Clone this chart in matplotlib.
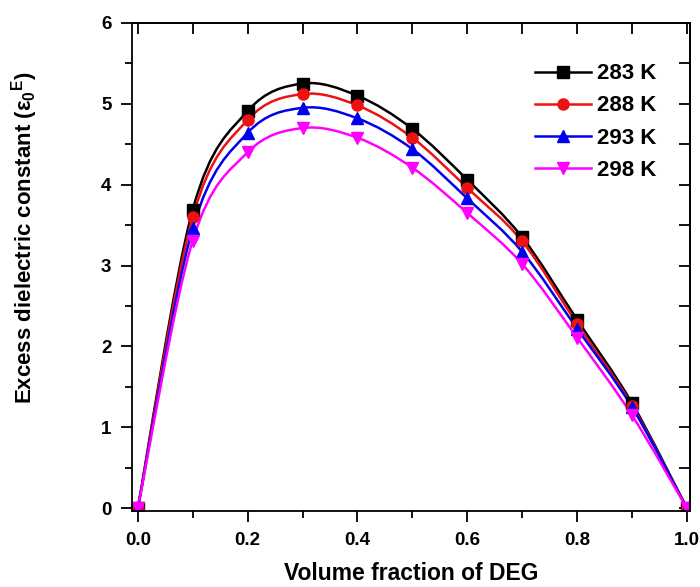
import matplotlib.pyplot as plt
import numpy as np
from matplotlib.path import Path
from matplotlib.patches import PathPatch
from matplotlib.ticker import MultipleLocator

plt.rcParams["font.family"] = ["Liberation Sans", "DejaVu Sans"]
plt.rcParams["font.weight"] = "bold"
plt.rcParams["mathtext.fontset"] = "custom"
plt.rcParams["mathtext.rm"] = "Liberation Sans"
plt.rcParams["mathtext.it"] = "Liberation Sans"

# volume fraction of DEG
phi = [0.0, 0.1, 0.2, 0.3, 0.4, 0.5, 0.6, 0.7, 0.8, 0.9, 1.0]

# excess dielectric constant at each temperature
eps_283 = [0.0, 3.69, 4.91, 5.25, 5.10, 4.69, 4.06, 3.35, 2.33, 1.30, 0.0]
eps_288 = [0.0, 3.60, 4.80, 5.12, 4.98, 4.58, 3.96, 3.30, 2.28, 1.27, 0.0]
eps_293 = [0.0, 3.46, 4.64, 4.95, 4.82, 4.44, 3.83, 3.17, 2.22, 1.25, 0.0]
eps_298 = [0.0, 3.31, 4.40, 4.70, 4.58, 4.21, 3.65, 3.02, 2.11, 1.15, 0.0]

labels = ["283 K", "288 K", "293 K", "298 K"]
series = [eps_283, eps_288, eps_293, eps_298]
colors = ["black", "#ee1111", "#0000ee", "#ff00ff"]
markers = ["s", "o", "^", "v"]


def smooth_path(x, y):
    # Catmull-Rom through the points, drawn as cubic Bezier segments
    x = np.asarray(x, float)
    y = np.asarray(y, float)
    verts = [(x[0], y[0])]
    codes = [Path.MOVETO]
    n = len(x)
    for i in range(n - 1):
        x0, y0 = (x[i - 1], y[i - 1]) if i > 0 else (x[i], y[i])
        x3, y3 = (x[i + 2], y[i + 2]) if i + 2 < n else (x[i + 1], y[i + 1])
        c1 = (x[i] + (x[i + 1] - x0) / 6, y[i] + (y[i + 1] - y0) / 6)
        c2 = (x[i + 1] - (x3 - x[i]) / 6, y[i + 1] - (y3 - y[i]) / 6)
        verts += [c1, c2, (x[i + 1], y[i + 1])]
        codes += [Path.CURVE4] * 3
    return Path(verts, codes)


fig = plt.figure(figsize=(7.0, 5.87), dpi=100)
ax = fig.add_axes([0.189, 0.13, 0.797, 0.831])

for vals, lab, c, m in zip(series, labels, colors, markers):
    ax.add_patch(PathPatch(smooth_path(phi, vals), fill=False, edgecolor=c, lw=1.8))
    ax.plot(phi, vals, linestyle="none", marker=m, color=c, markersize=8)
    # legend proxy
    ax.plot([], [], "-", marker=m, color=c, markersize=8, lw=1.8, label=lab)

ax.set_xlim(-0.01, 1.006)
ax.set_ylim(-0.03, 6)
ax.xaxis.set_major_locator(MultipleLocator(0.2))
ax.xaxis.set_minor_locator(MultipleLocator(0.1))
ax.yaxis.set_major_locator(MultipleLocator(1))
ax.yaxis.set_minor_locator(MultipleLocator(0.5))
ax.xaxis.set_major_formatter(plt.FormatStrFormatter("%.1f"))

ax.tick_params(which="both", direction="out", width=1.3, top=False, right=False)
ax.tick_params(which="major", length=8, pad=7)
ax.tick_params(which="minor", length=5)
ax.tick_params(axis="x", labelsize=13.5)
ax.tick_params(axis="y", labelsize=13.5)

# inward ticks on the top and right edges
secx = ax.secondary_xaxis("top")
secx.xaxis.set_major_locator(MultipleLocator(0.1))
secx.tick_params(direction="in", length=8, width=1.3, labeltop=False)
secy = ax.secondary_yaxis("right")
secy.yaxis.set_major_locator(MultipleLocator(0.5))
secy.tick_params(direction="in", length=8, width=1.3, labelright=False)
for s in list(ax.spines.values()) + [secx.spines["top"], secy.spines["right"]]:
    s.set_linewidth(1.3)

ax.set_xlabel("Volume fraction of DEG", fontsize=16.5, fontweight="bold", labelpad=10)
ax.set_ylabel(r"Excess dielectric constant (ε$_0$$^\mathrm{E}$)", fontsize=16,
              fontweight="bold")
ax.yaxis.set_label_coords(-0.165, 0.56)

ax.legend(loc="upper right", bbox_to_anchor=(0.94, 0.917), frameon=False,
          fontsize=16, handlelength=2.5, handletextpad=0.3, labelspacing=0.5,
          borderaxespad=0, borderpad=0)

fig.savefig("out.png", dpi=100)
